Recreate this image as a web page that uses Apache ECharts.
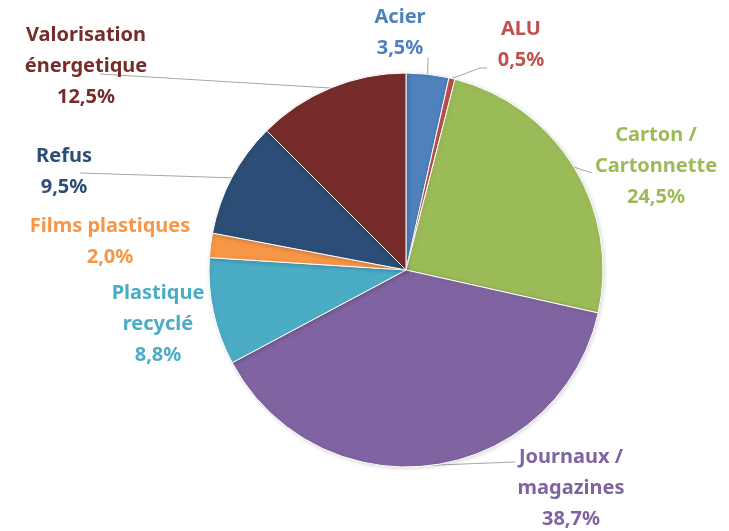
<!DOCTYPE html>
<html>
<head>
<meta charset="utf-8">
<script src="https://cdn.jsdelivr.net/npm/echarts@6/dist/echarts.min.js"></script>
<style>
  html, body { margin: 0; padding: 0; background: #fff; }
  #chart { width: 729px; height: 531px; }
</style>
</head>
<body>
<div id="chart"></div>
<script>
const categories = ['Acier', 'ALU', 'Carton /\nCartonnette', 'Journaux /\nmagazines', 'Plastique\nrecyclé', 'Films plastiques', 'Refus', 'Valorisation\nénergetique']
const values = [3.5, 0.5, 24.5, 38.7, 8.8, 2.0, 9.5, 12.5]
const colors = ['#4F81BD', '#C0504D', '#9BBB59', '#8064A2', '#4BACC6', '#F79646', '#2C4D75', '#772C2A']
const showLine = [true, true, true, true, false, false, true, true]

// label centres and leader line ends (pixels)
const labelPos = [[400, 33], [521, 45], [656, 166], [571, 488], [158, 324], [110, 242], [64, 172], [86, 66]]
const lineEnds = [
  [[428, 58], [428, 58]],
  [[480, 68], [487, 68]],
  [[592, 173], [592, 173]],
  [[515, 462], [515, 462]],
  null,
  null,
  [[80, 173], [80, 173]],
  [[100, 74], [100, 74]]
]

const chart = echarts.init(document.getElementById('chart'))

chart.setOption({
  animation: false,
  series: [{
    type: 'pie',
    center: [406, 270],
    radius: 197,
    startAngle: 90,
    clockwise: true,
    data: categories.map((name, i) => ({
      name: name,
      value: values[i],
      itemStyle: { color: colors[i] },
      label: { color: colors[i] },
      labelLine: { show: showLine[i] }
    })),
    itemStyle: {
      borderColor: '#fff',
      borderWidth: 1,
      shadowBlur: 4,
      shadowColor: 'rgba(0,0,0,0.15)',
      shadowOffsetX: 1,
      shadowOffsetY: 1
    },
    label: {
      show: true,
      position: 'outside',
      fontFamily: 'Noto Sans',
      fontWeight: 'bold',
      fontSize: 20,
      lineHeight: 31,
      align: 'center',
      overflow: 'none',
      formatter: p => p.name + '\n' + p.value.toFixed(1).replace('.', ',') + '%'
    },
    labelLine: {
      lineStyle: { color: '#a6a6a6', width: 1 }
    },
    labelLayout: function (params) {
      const i = params.dataIndex
      const res = {
        x: labelPos[i][0],
        y: labelPos[i][1],
        align: 'center',
        verticalAlign: 'middle'
      }
      if (lineEnds[i] && params.labelLinePoints) {
        res.labelLinePoints = [params.labelLinePoints[0], lineEnds[i][0], lineEnds[i][1]]
      }
      return res
    }
  }]
})
</script>
</body>
</html>
